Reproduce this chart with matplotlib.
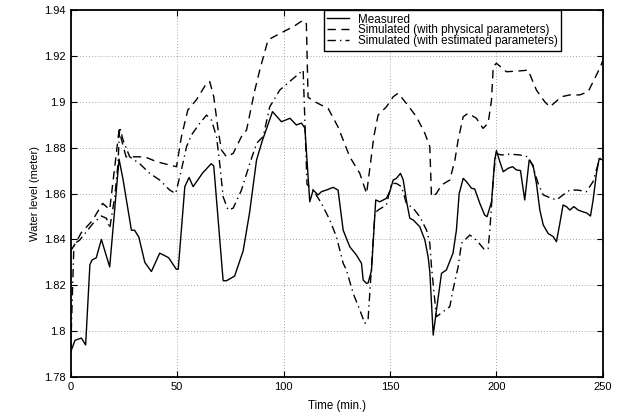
import numpy as np
import matplotlib.pyplot as plt
from matplotlib.ticker import FuncFormatter

plt.rcParams['font.family'] = ['Liberation Sans', 'DejaVu Sans']

# measured water level
t_meas = [0, 2, 5, 7, 9, 10, 12, 14.4, 18.3, 22.7, 24.6, 28.5, 30, 32, 34.8, 37.9,
          41.8, 44, 46, 49.6, 50.5, 53.6, 55.6, 57.5, 62, 66, 67.2, 71.6, 73.2, 77,
          81, 84, 87.3, 90, 94.8, 99, 103, 106, 108.4, 110, 112.3, 113.9, 116.2,
          117.8, 120.9, 123.3, 125.6, 128, 131.1, 134.2, 136.6, 137.4, 139, 139.7,
          141.3, 143.3, 145.2, 148.3, 149.9, 151.5, 153, 154.9, 156.2, 157.7, 159.3,
          160.9, 164, 166.4, 167.9, 168.7, 170.3, 171.8, 174.2, 176.5, 179.6, 181.2,
          182.5, 184.4, 185.9, 188.3, 189.8, 192.2, 194.5, 195.6, 197.7, 199.2, 200,
          201.6, 203.2, 205.5, 207.6, 209.4, 211.3, 213.3, 215.4, 217.2, 218.8,
          220.4, 222, 224.3, 226.7, 228.2, 229.8, 231.3, 232.9, 234.5, 236.4, 238.4,
          240.7, 242.3, 244.2, 245.4, 247, 248.3, 250]
v_meas = [1.791, 1.796, 1.797, 1.794, 1.829, 1.831, 1.832, 1.840, 1.828, 1.875, 1.866,
          1.844, 1.844, 1.841, 1.830, 1.826, 1.834, 1.833, 1.832, 1.827, 1.827, 1.863,
          1.867, 1.863, 1.869, 1.873, 1.872, 1.822, 1.822, 1.824, 1.835, 1.8515,
          1.8746, 1.883, 1.8957, 1.8913, 1.8928, 1.8899, 1.8907, 1.8886, 1.8564,
          1.8615, 1.8594, 1.8608, 1.8618, 1.8627, 1.8615, 1.844, 1.8368, 1.8332,
          1.8296, 1.8223, 1.8208, 1.821, 1.8264, 1.8572, 1.8564, 1.8579, 1.8608,
          1.8659, 1.8666, 1.8688, 1.866, 1.857, 1.8492, 1.8485, 1.8455, 1.8397,
          1.8324, 1.826, 1.7983, 1.809, 1.8252, 1.8267, 1.834, 1.844, 1.860, 1.8666,
          1.8652, 1.8623, 1.862, 1.8557, 1.8506, 1.8499, 1.8564, 1.8746, 1.8787,
          1.8739, 1.8695, 1.871, 1.8717, 1.8703, 1.870, 1.8572, 1.8746, 1.8724,
          1.8644, 1.8528, 1.8463, 1.8426, 1.8412, 1.839, 1.847, 1.855, 1.8543,
          1.8528, 1.8543, 1.8528, 1.852, 1.8516, 1.8502, 1.857, 1.8688, 1.8753, 1.8746]

# simulated with physical parameters
t_phys = [0, 2, 5, 10, 15, 18.3, 22.7, 26, 30, 34.8, 40.3, 46.5, 49.7, 52, 55, 59,
          63.8, 65.3, 67.2, 69.2, 70.8, 73.2, 76.3, 80.2, 82.6, 86.5, 88.8, 92.7,
          99.8, 104.5, 109.2, 110.7, 111.5, 114.7, 121, 125.6, 131.1, 135.8, 139,
          140.8, 142.4, 144.4, 148.3, 151.5, 153.8, 157.7, 162.4, 166.4, 168.7,
          169.5, 171.8, 174.2, 178.1, 180.5, 182, 184.4, 186.7, 190.6, 193.7, 196.1,
          197.7, 198.5, 200, 204.7, 210.2, 214.9, 218.8, 222.7, 225.1, 230.6, 234.5,
          239.2, 243.1, 246.2, 248.9, 250]
v_phys = [1.835, 1.838, 1.843, 1.848, 1.8557, 1.853, 1.8875, 1.876, 1.876, 1.876,
          1.8739, 1.8724, 1.8717, 1.8848, 1.8964, 1.9008, 1.908, 1.9088, 1.9022,
          1.888, 1.879, 1.876, 1.8775, 1.8848, 1.8877, 1.9051, 1.9138, 1.927, 1.9305,
          1.9327, 1.9356, 1.934, 1.902, 1.900, 1.897, 1.889, 1.876, 1.8688, 1.860,
          1.873, 1.8848, 1.8942, 1.8978, 1.9022, 1.9037, 1.8993, 1.8935, 1.8862,
          1.8804, 1.8586, 1.860, 1.8637, 1.8659, 1.8746, 1.8833, 1.8935, 1.895,
          1.8928, 1.8884, 1.8906, 1.9008, 1.9153, 1.9168, 1.9131, 1.9134, 1.9138,
          1.9051, 1.900, 1.8978, 1.9022, 1.903, 1.903, 1.9044, 1.9102, 1.9153, 1.918]

# simulated with estimated parameters
t_est = [0, 1.5, 4.2, 10.5, 14.4, 16.8, 18.3, 20.7, 22.2, 23, 24.6, 27.7, 32.4, 37.1,
         41.8, 46.5, 49.3, 52, 54.4, 56.7, 60.6, 63.8, 66.1, 68.5, 70, 71.6, 73.9,
         76.3, 80.2, 84.1, 87.3, 90.4, 93.5, 98.2, 103.7, 109.2, 111, 113.9, 117.8,
         121.7, 124.8, 128, 129.5, 132.7, 135.8, 138.2, 139.7, 140.5, 141.3, 142.9,
         144.4, 148.3, 150.7, 153, 155.4, 157.7, 160.9, 164, 167.2, 168.7, 169.5,
         171.8, 175, 178.1, 179.6, 182, 183.6, 187.5, 190.6, 194.5, 196.1, 196.9,
         198.5, 199.7, 202.4, 206.3, 211, 214.9, 217.2, 219.6, 222, 225.9, 228.2,
         231.3, 234.5, 238.4, 242.3, 245.4, 247.8, 248.9, 250]
v_est = [1.792, 1.838, 1.8397, 1.847, 1.8502, 1.8492, 1.8448, 1.8586, 1.873, 1.889,
         1.8833, 1.876, 1.873, 1.8688, 1.8659, 1.8615, 1.860, 1.8703, 1.8804, 1.8855,
         1.8906, 1.8942, 1.892, 1.8848, 1.873, 1.8586, 1.8528, 1.8536, 1.8615, 1.873,
         1.8819, 1.8848, 1.8978, 1.9051, 1.9095, 1.9138, 1.864, 1.8615, 1.8557,
         1.8485, 1.8412, 1.8296, 1.8267, 1.8165, 1.8092, 1.8034, 1.805, 1.8165,
         1.828, 1.8514, 1.8528, 1.855, 1.8644, 1.8644, 1.863, 1.8557, 1.8536, 1.8499,
         1.844, 1.8383, 1.828, 1.8063, 1.8085, 1.8107, 1.818, 1.828, 1.8383, 1.8419,
         1.8397, 1.8354, 1.836, 1.844, 1.8659, 1.8775, 1.8768, 1.8772, 1.8768, 1.876,
         1.8717, 1.8644, 1.8594, 1.8579, 1.8572, 1.8594, 1.8615, 1.8615, 1.8608,
         1.8652, 1.873, 1.8753, 1.875]

fig = plt.figure(figsize=(6.26, 4.18), dpi=100)
ax = fig.add_axes([0.113, 0.098, 0.85, 0.878])

ax.plot(t_meas, v_meas, color='black', lw=1.0, ls='-', label='Measured')
ax.plot(t_phys, v_phys, color='black', lw=1.0, ls=(0, (6, 4)),
        label='Simulated (with physical parameters)')
ax.plot(t_est, v_est, color='black', lw=1.0, ls=(0, (6, 3, 1, 3)),
        label='Simulated (with estimated parameters)')

ax.set_xlim(0, 250)
ax.set_ylim(1.78, 1.94)
ax.set_xticks([0, 50, 100, 150, 200, 250])
ax.set_yticks(np.arange(1.78, 1.9401, 0.02))
ax.yaxis.set_major_formatter(FuncFormatter(lambda v, p: '%g' % round(v, 2)))
ax.tick_params(direction='in', top=True, right=True, labelsize=8, length=4, width=0.8)
ax.grid(True, color='#888888', ls=(0, (1, 2.5)), lw=0.6)
for s in ax.spines.values():
    s.set_linewidth(1.3)

ax.set_xlabel('Time (min.)', fontsize=8.3, labelpad=6)
ax.set_ylabel('Water level (meter)', fontsize=8, labelpad=3)

leg = ax.legend(loc='upper right', bbox_to_anchor=(0.922, 1.0), fontsize=8.4,
                frameon=True, fancybox=False, framealpha=1, edgecolor='black',
                borderpad=0.3, labelspacing=-0.1, handlelength=1.9,
                handletextpad=0.75, borderaxespad=0)
leg.get_frame().set_linewidth(1.0)

fig.savefig('out.png', dpi=100)
